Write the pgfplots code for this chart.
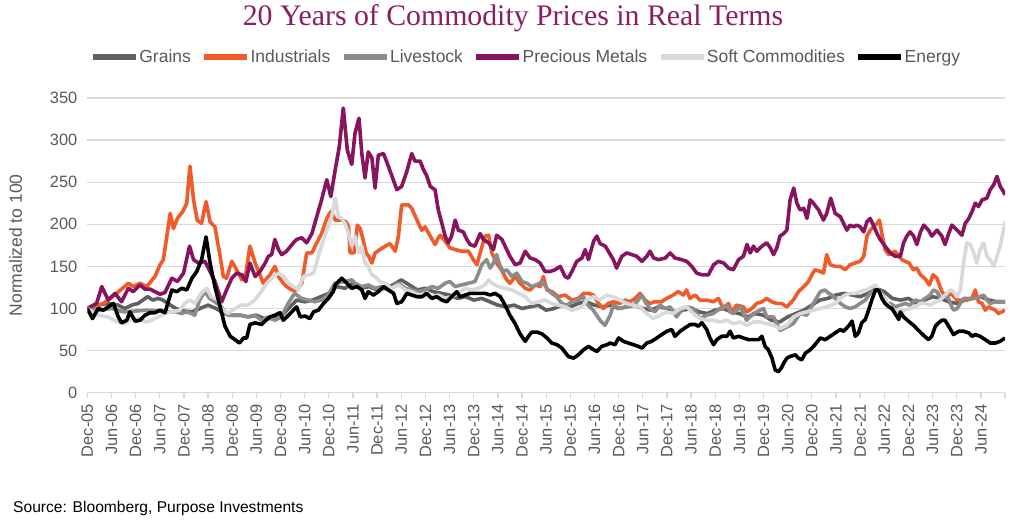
\documentclass[border=0pt]{standalone}
\usepackage{pgfplots}
\pgfplotsset{compat=1.18}
\usepackage{fontspec}
\setmainfont{Liberation Sans}
\newfontfamily\titlefont{Liberation Serif}
\definecolor{cgrain}{HTML}{5F6062}
\definecolor{cind}{HTML}{F15A29}
\definecolor{clive}{HTML}{8C8C8C}
\definecolor{cprec}{HTML}{87145E}
\definecolor{csoft}{HTML}{D9D9D9}
\definecolor{cen}{HTML}{000000}
\definecolor{ctxt}{HTML}{595959}
\definecolor{cgrid}{HTML}{D9D9D9}
\definecolor{ctitle}{HTML}{8B1D62}
\begin{document}
\begin{tikzpicture}[x=1pt,y=1pt]
\useasboundingbox (0,0) rectangle (1024,522);
\node[font=\titlefont\fontsize{29.8}{32}\selectfont, text=ctitle] at (513,504) {20 Years of Commodity Prices in Real Terms};
\node[font=\fontsize{15.6}{18}\selectfont, text=black, anchor=west, inner sep=0pt] at (13,14) {Source: Bloomberg, Purpose Investments};
\begin{axis}[
  at={(87.3pt,129.3pt)}, anchor=south west,
  scale only axis, width=917.7pt, height=294.7pt,
  xmin=0, xmax=228, ymin=0, ymax=350,
  axis x line*=bottom, axis y line*=left, separate axis lines,
  x axis line style={cgrid, line width=1.3pt, -},
  y axis line style={draw=none},
  xtick={0,6,...,228},
  xticklabels={Dec-05,Jun-06,Dec-06,Jun-07,Dec-07,Jun-08,Dec-08,Jun-09,Dec-09,Jun-10,Dec-10,Jun-11,Dec-11,Jun-12,Dec-12,Jun-13,Dec-13,Jun-14,Dec-14,Jun-15,Dec-15,Jun-16,Dec-16,Jun-17,Dec-17,Jun-18,Dec-18,Jun-19,Dec-19,Jun-20,Dec-20,Jun-21,Dec-21,Jun-22,Dec-22,Jun-23,Dec-23,Jun-24,{}},
  ytick={0,50,...,350},
  xtick style={cgrid, line width=1.3pt},
  ytick style={draw=none},
  tick align=outside, major tick length=5pt,
  ymajorgrids, grid style={cgrid, line width=1.3pt},
  /pgf/number format/assume math mode=true,
  ticklabel style={font=\fontsize{16.4}{18}\selectfont, text=ctxt},
  x tick label style={rotate=90, anchor=east},
  xticklabel shift=3pt,
  yticklabel shift=1.5pt,
  ylabel={Normalized to 100},
  every axis y label/.style={at={(axis description cs:-0.078,0.5)}, rotate=90, anchor=center, font=\fontsize{17.5}{20}\selectfont, text=ctxt},
  legend columns=6,
  legend cell align=left,
  legend image code/.code={\draw[#1, line width=5.5pt] (0pt,0pt) -- (43pt,0pt);},
  legend style={at={(axis description cs:0.4775,1.139)}, anchor=center, draw=none, fill=none,
    font=\fontsize{17.5}{20}\selectfont, text=ctxt, inner sep=0pt,
    nodes={inner sep=0.6pt},
    /tikz/every even column/.append style={column sep=10pt}},
  every axis plot/.append style={line width=3.6pt, line join=round, no markers},
]
% Grains
\addplot[cgrain] coordinates {
(0,100)(2.7,104)(5.1,106)(7.6,104)(9.3,100)(11,104)(12.6,106)(13.8,110)(15,114)(16.3,110)(17.6,112)(18.8,110)(20,106)(22,100)(24,97)(26,96)(28,100)(30,104)(32,100)(34,94)(36,92)(38,92)(40,90)(42,92)(44,88)(46,88)(48,90)(50,100)(52,110)(54,108)(56,110)(58,114)(60,118)(62,126)(64,124)(66,130)(68,124)(70,126)(72,122)(74,124)(76,128)(78,134)(80,128)(82,122)(84,124)(86,120)(88,118)(90,116)(92,112)(94,114)(96,110)(98,112)(100,108)(102,104)(104,102)(106,104)(108,100)(110,102)(112,104)(114,98)(116,100)(118,104)(120,102)(122,106)(124,108)(126,104)(128,102)(130,104)(132,100)(134,102)(136,104)(138,100)(140,98)(142,102)(144,100)(146,96)(148,98)(150,100)(152,96)(154,94)(156,98)(158,100)(160,96)(162,94)(164,90)(166,94)(168,92)(170,86)(172,84)(174,90)(176,94)(178,98)(180,104)(182,110)(184,112)(186,116)(188,118)(190,116)(192,114)(194,118)(196,124)(198,120)(200,112)(202,110)(204,112)(206,106)(208,110)(210,114)(212,112)(214,108)(216,106)(218,110)(220,112)(222,114)(224,110)(226,108)(228,108)
};
\addlegendentry{Grains}
% Industrials
\addplot[cind] coordinates {
(0,100)(4,106)(7.3,118)(10.2,130)(11.4,126)(13.1,130)(14.8,126)(16.8,138)(18.1,152)(18.9,158)(20.6,213)(21.4,195)(22.4,207)(23.7,215)(24.7,225)(25.5,269)(26.4,229)(27.3,205)(28.4,201)(29.5,227)(30.5,203)(31.7,197)(33,162)(33.8,138)(34.6,136)(35.9,156)(37.1,146)(38.4,134)(39.4,142)(40.4,174)(41.7,154)(42.9,140)(43.7,130)(44.6,136)(45.4,140)(46.6,150)(47.5,138)(48.7,130)(49.5,126)(50.8,122)(52,122)(53.3,130)(54.5,166)(55.8,166)(57,178)(58.2,189)(59.5,207)(60.5,215)(61.6,205)(63.2,205)(64.3,203)(64.9,197)(65.3,166)(66.3,166)(67.1,199)(67.8,195)(68.6,180)(69.3,166)(69.9,162)(70.7,154)(71.5,166)(72.7,170)(74,174)(75.2,177)(76.5,168)(77.3,186)(78.1,223)(79.8,223)(80.6,219)(81.9,205)(83.1,193)(83.9,197)(85.2,186)(86.4,176)(87.2,184)(87.7,187)(88.9,180)(90.1,172)(91.4,170)(93,168)(94.7,168)(95.9,158)(96.8,152)(97.6,166)(98.8,186)(99.7,187)(100.5,166)(101.7,154)(103,145)(104.2,134)(105,130)(106.3,138)(107.5,130)(108.8,124)(110,122)(111.3,128)(112.5,126)(113.3,138)(114.2,122)(115.4,120)(117.1,114)(118.7,116)(120.4,110)(122,112)(123.3,118)(124.5,118)(125.7,116)(127,106)(128.2,100)(129.4,106)(130.7,108)(132.3,106)(133.6,110)(134.8,108)(136.1,112)(137.3,118)(138.6,110)(139.8,106)(141,108)(142.7,108)(143.9,112)(145.6,116)(146.8,120)(148.1,116)(148.9,122)(149.7,112)(151,116)(152.2,110)(153.9,110)(155.5,108)(156.8,112)(158,100)(159.3,106)(160.1,96)(161.3,104)(163,102)(163.8,96)(165.1,100)(166.3,106)(167.6,108)(168.8,112)(170,108)(171.3,106)(172.5,106)(173.8,102)(175.4,110)(176.7,120)(178,126)(179.2,132)(180,140)(180.8,146)(182.1,144)(182.9,142)(183.7,164)(184.6,152)(185.8,150)(187.1,150)(188.3,146)(189.5,152)(190.8,154)(192,156)(192.9,162)(193.7,186)(194.5,193)(195.3,197)(196.2,201)(196.8,205)(197.4,189)(198.2,170)(199.1,164)(199.9,166)(200.7,168)(201.6,162)(202.4,158)(203.2,156)(204.2,154)(205.2,146)(206.1,148)(207,140)(208.2,135)(209.2,128)(210.1,140)(211.1,136)(212.3,120)(213.4,114)(214.6,118)(216.1,110)(217.3,110)(218.5,110)(219.8,112)(220.6,122)(221.4,108)(222.3,106)(223.1,98)(223.9,102)(224.7,100)(225.6,98)(226.4,94)(227.2,96)(228,98)
};
\addlegendentry{Industrials}
% Livestock
\addplot[clive] coordinates {
(0,100)(3,98)(6,100)(9,96)(12,97)(15,98)(18,97)(20.9,96)(22.1,96)(23.4,94)(24.6,96)(25.9,94)(26.7,92)(27.9,110)(29.2,120)(30.4,112)(31.7,108)(33.3,102)(35,92)(36.6,92)(38.3,92)(40,90)(41.6,92)(43.3,86)(44.9,90)(46.6,86)(48.2,90)(49.9,106)(51.5,118)(53.2,112)(54.9,110)(56.5,108)(58.2,110)(59.8,116)(61.5,130)(64,132)(65.7,134)(66.5,130)(68.2,126)(69.8,128)(71.5,124)(73.1,126)(74.8,122)(76,126)(77.3,130)(79,124)(80.6,122)(82.3,120)(83.9,122)(85.6,126)(87.2,124)(88.9,130)(90.1,132)(91.4,126)(93,128)(94.7,130)(96.3,132)(97.2,142)(98,152)(99.2,158)(100.1,148)(100.9,154)(101.7,164)(102.6,150)(103.4,144)(104.2,146)(105.5,138)(106.7,142)(108,132)(109.2,130)(110.4,126)(111.7,128)(112.9,132)(114.2,124)(115.4,118)(116.6,114)(117.9,106)(119.1,104)(120.4,108)(122,110)(123.3,114)(124,106)(125.7,98)(127.4,86)(128.6,80)(129.9,92)(130.7,104)(132.3,100)(134,102)(135.7,104)(136.9,110)(137.7,116)(138.6,108)(139.8,100)(141,96)(142.3,104)(143.5,100)(144.8,102)(146.4,90)(147.3,96)(148.9,102)(150.6,100)(152.2,88)(153.9,92)(155.5,94)(157.2,100)(158.9,104)(159.7,96)(160.5,94)(162.2,102)(163.8,86)(165.5,94)(167.1,98)(168,100)(168.8,90)(170.5,90)(172.1,74)(173.8,78)(175.4,82)(177.1,94)(178.7,92)(180.4,106)(182.1,120)(183.3,122)(184.2,118)(185,116)(185.8,112)(187.1,106)(188.3,102)(189.5,100)(190.8,102)(192,106)(193.3,110)(194.5,118)(195.8,122)(197,120)(197.8,114)(198.7,106)(199.5,106)(200.7,102)(202,104)(203.2,106)(204.4,104)(205.7,110)(207,108)(208.2,112)(209.4,116)(210.2,122)(211.1,120)(212,112)(212.7,114)(213.6,116)(214.4,106)(215.2,98)(216.1,100)(216.9,106)(217.7,112)(218.5,112)(219.8,112)(221,112)(221.8,114)(222.7,116)(223.5,110)(224.3,106)(225.6,108)(226.8,108)(228,108)
};
\addlegendentry{Livestock}
% Precious Metals
\addplot[cprec] coordinates {
(0,100)(2.3,106)(3.6,126)(5.2,110)(6.9,118)(8.5,108)(10.2,124)(11.4,120)(13.1,128)(14.3,123)(15.6,123)(16.8,120)(18.1,117)(19.3,119)(21,136)(22.4,132)(23.9,142)(25.4,174)(26.4,158)(27.6,154)(29.2,156)(30.5,144)(31.7,132)(33.4,108)(34.6,122)(35.9,136)(37.1,142)(38.4,140)(39.4,132)(40.4,154)(41.7,138)(42.9,144)(44.2,154)(45,162)(45.8,164)(46.6,182)(47.5,170)(48.3,164)(49.5,168)(51.2,178)(52,182)(53.3,184)(54.5,178)(55.8,189)(57,209)(58.2,229)(59.5,253)(60.5,233)(61.6,265)(62.6,292)(63.6,338)(64.6,288)(65.7,271)(66.5,308)(67.5,326)(68.2,284)(69,255)(69.8,286)(70.7,279)(71.5,243)(72.3,282)(73.6,284)(74.8,269)(76,253)(76.9,241)(78.1,245)(79.4,263)(80.6,284)(81.4,275)(82.7,275)(83.5,265)(84.3,258)(85.2,245)(86.4,241)(87.2,217)(88.1,201)(88.9,186)(89.7,178)(90.5,186)(91.4,205)(92.2,193)(93.4,191)(94.3,182)(95.1,176)(96.3,174)(97.6,189)(98.4,182)(99.7,178)(100.9,170)(101.7,187)(103,182)(103.8,174)(105,162)(106.3,152)(107.5,154)(108.8,168)(110,160)(111.3,158)(112.5,154)(113.7,144)(115,144)(116.2,146)(117.5,150)(118.7,138)(119.5,136)(120.4,144)(121.6,156)(122.9,160)(123.7,170)(124.5,158)(125.8,180)(126.6,186)(127.4,177)(128.7,174)(130.7,158)(131.5,148)(132.8,162)(134,166)(135.3,164)(136.5,162)(137.8,156)(139,162)(139.8,168)(140.7,160)(141.9,158)(143.6,160)(144.8,166)(146,160)(147.7,158)(148.9,156)(150.2,150)(151.4,142)(152.7,140)(154.3,140)(155.6,152)(156.8,156)(158.1,154)(159.3,148)(160.5,146)(161.8,158)(163,162)(163.9,176)(164.7,166)(165.5,174)(166.3,168)(167.6,174)(168.8,178)(169.7,172)(170.5,164)(171.3,172)(172.1,186)(173,189)(173.8,193)(174.6,229)(175.5,243)(176.3,225)(177.1,217)(178,219)(178.8,207)(179.6,229)(180.4,225)(181.7,217)(182.9,205)(183.7,213)(184.7,231)(185.8,213)(187.1,209)(187.9,201)(188.7,193)(189.5,199)(190.4,197)(191.2,199)(192,197)(192.9,191)(193.7,203)(194.5,207)(195.3,199)(196.2,189)(197,182)(198.2,174)(199.5,166)(200.7,162)(202,162)(202.8,178)(203.6,186)(204.4,191)(205.3,186)(206.1,176)(207,191)(207.8,199)(209,193)(209.8,186)(211.1,193)(212.3,186)(213.1,176)(214,189)(214.8,199)(216.1,193)(217.3,187)(218.1,201)(219,207)(219.8,215)(220.6,225)(221.4,221)(222.3,229)(223.5,231)(224.3,241)(225.2,247)(226,257)(226.8,245)(227.6,239)(228,235)
};
\addlegendentry{Precious Metals}
% Soft Commodities
\addplot[csoft] coordinates {
(0,100)(2.7,92)(5.1,90)(7.6,84)(9.3,82)(11,88)(12.6,88)(14.7,84)(15.9,86)(17.6,90)(19.2,94)(20.9,96)(23,98)(24.2,106)(25.4,110)(26.7,106)(28.3,118)(29.6,124)(30.8,114)(32.5,110)(33.3,100)(35,94)(36.6,100)(38.3,104)(39.9,104)(41.6,110)(42.9,118)(44.6,130)(46.2,138)(47.5,142)(48.7,138)(50,130)(51.2,126)(52.4,122)(53.7,138)(54.9,140)(56.2,142)(57.4,162)(58.7,182)(59.5,193)(60.7,209)(61.6,231)(62.4,209)(63.2,207)(64,201)(64.9,189)(65.7,174)(66.5,186)(67.4,166)(68.2,174)(69,154)(69.8,150)(70.7,140)(71.5,138)(72.7,132)(74,130)(75.6,124)(77.3,128)(79,122)(80.6,120)(82.3,116)(83.9,114)(85.6,114)(87.2,116)(88.9,112)(90.5,114)(92.2,118)(93.9,124)(95.5,122)(97.2,124)(98.8,128)(99.7,134)(100.5,130)(102.1,126)(103.8,124)(105.5,122)(107.1,118)(108.8,114)(110.4,106)(112.1,108)(113.7,110)(115.4,106)(117,104)(118.7,102)(120.4,98)(122,100)(123.3,104)(124,110)(125.7,114)(127.4,110)(129,116)(130.7,114)(132.3,110)(134,106)(135.7,104)(137.3,102)(139,94)(140.6,88)(142.3,92)(143.9,96)(145.6,94)(147.3,100)(148.9,102)(150.6,94)(152.2,88)(153.9,86)(155.5,86)(157.2,84)(158.9,86)(160.5,82)(162.2,84)(163.8,80)(165.5,84)(167.1,84)(168.8,82)(170.5,80)(172.1,76)(173.8,80)(175.4,90)(177.1,94)(178.7,96)(180.4,98)(182,100)(183.7,102)(185.8,106)(187.1,112)(188.3,116)(189.5,118)(190.8,118)(192,120)(193.3,122)(194.5,124)(195.8,128)(196.6,122)(197.4,116)(198.2,110)(199.1,104)(199.9,100)(200.7,98)(201.6,96)(202.8,98)(204.4,100)(205.7,102)(207,106)(208.2,106)(209.4,104)(210.7,108)(211.9,110)(213.1,116)(214.4,122)(215.2,120)(216,114)(216.9,122)(217.7,154)(218.5,178)(219.4,176)(220.2,166)(221,154)(221.8,170)(222.7,178)(223.5,162)(224.3,158)(225.2,150)(226,162)(226.8,174)(227.6,193)(228,203)
};
\addlegendentry{Soft Commodities}
% Energy
\addplot[cen] coordinates {
(0,100)(1.3,88)(2.7,100)(4,98)(5.2,102)(6.5,106)(7.7,90)(8.5,83)(9.8,86)(10.6,96)(11.9,85)(13.1,86)(14.3,92)(15.6,95)(16.8,95)(18.1,98)(19.3,95)(21,122)(22.2,120)(23.5,124)(24.7,122)(26,136)(27.2,144)(28.4,158)(29.5,185)(30.5,154)(31.7,126)(33,102)(34.2,79)(35.5,67)(36.7,63)(37.8,59)(38.8,65)(39.6,65)(40.4,81)(41.7,83)(43.3,81)(44.6,87)(45.4,90)(46.6,92)(47.9,95)(48.7,86)(50,92)(51.2,98)(52,102)(52.9,90)(54.1,91)(55.3,88)(56.2,96)(57.4,98)(58.7,106)(59.9,112)(61.1,120)(61.6,128)(63.2,136)(64.5,130)(65.7,124)(67,126)(68.2,122)(69,112)(69.8,120)(71.1,116)(72.3,120)(73.6,126)(74.8,122)(76.1,118)(76.9,106)(78.1,108)(79.4,118)(80.6,116)(81.9,114)(83.1,114)(84.3,118)(85.6,112)(86.8,114)(88.1,110)(89.3,108)(90.5,114)(91.8,120)(92.6,114)(93.9,116)(95.1,118)(96.4,118)(97.6,118)(98.8,118)(100.1,116)(101.3,118)(102.6,114)(103.8,104)(105,92)(106.3,82)(107.5,70)(108.8,61)(109.6,67)(110.4,72)(111.7,72)(112.9,70)(114.2,65)(115.4,59)(116.7,57)(117.9,53)(119.5,43)(120.8,41)(122,45)(123.3,51)(124.5,55)(125.8,51)(126.6,49)(127.8,55)(129.1,57)(129.9,59)(131.1,57)(132,65)(133.2,61)(134.4,59)(135.7,57)(136.9,55)(137.8,53)(139,59)(140.2,61)(141.5,65)(142.7,69)(144,73)(145.2,75)(146,67)(147.3,73)(148.5,77)(149.8,81)(151,81)(151.8,79)(152.7,83)(153.9,75)(154.7,65)(155.6,57)(156.4,63)(157.6,67)(158.9,67)(159.7,73)(160.5,65)(161.8,67)(163,65)(164.3,63)(165.5,63)(166.8,63)(167.6,67)(168.4,55)(169.2,51)(170.1,41)(170.9,27)(171.7,25)(172.5,30)(173,35)(173.8,41)(174.6,43)(175.9,45)(176.7,41)(177.5,39)(178.4,47)(179.6,51)(180.8,57)(182.1,65)(183.3,63)(184.6,67)(185.8,71)(187.1,75)(187.9,73)(189.1,79)(190,85)(190.8,67)(191.6,71)(192.4,83)(193.3,87)(194.1,98)(194.9,110)(195.8,122)(196.6,122)(197.4,112)(198.2,106)(199.1,102)(199.9,100)(200.7,94)(201.6,87)(202,96)(202.8,90)(204,85)(205.3,80)(206.5,74)(207.8,68)(209,63)(209.8,67)(210.7,79)(211.5,83)(212.3,86)(213.1,86)(214,79)(215.2,69)(216.5,73)(217.7,73)(219,71)(219.8,67)(220.6,69)(221.8,67)(223.1,63)(224.3,59)(225.6,59)(226.8,61)(228,65)
};
\addlegendentry{Energy}
\end{axis}
\end{tikzpicture}
\end{document}
